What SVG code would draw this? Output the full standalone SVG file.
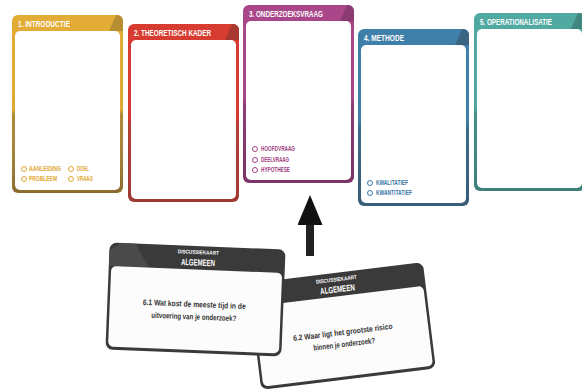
<svg xmlns="http://www.w3.org/2000/svg" width="582" height="392" viewBox="0 0 582 392">
<style>
  .ttl { font-family: "Liberation Sans", Arial, sans-serif; font-weight: bold; font-size: 9.5px; fill: #ffffff; }
  .chk { font-family: "Liberation Sans", Arial, sans-serif; font-weight: bold; font-size: 6.6px; }
  .inner { fill: #ffffff; }
  .dk-outer { fill: #3a3a3a; }
  .dk-inner { fill: #fcfcfc; }
  .dk-small { font-family: "Liberation Sans", Arial, sans-serif; font-weight: bold; font-size: 5.6px; fill: #ffffff; }
  .dk-big { font-family: "Liberation Sans", Arial, sans-serif; font-weight: bold; font-size: 9px; fill: #ffffff; }
  .dk-body { font-family: "Liberation Sans", Arial, sans-serif; font-weight: bold; font-size: 8px; fill: #333333; }
</style>
<defs>
  <linearGradient id="gY" x1="0" y1="0" x2="0" y2="1">
    <stop offset="0" stop-color="#E3AC36"/><stop offset="0.53" stop-color="#E0A935"/>
    <stop offset="0.56" stop-color="#B08A3C"/><stop offset="0.8" stop-color="#A6823A"/>
    <stop offset="1" stop-color="#8C6C2D"/>
  </linearGradient>
  <linearGradient id="gR" x1="0" y1="0" x2="0" y2="1">
    <stop offset="0" stop-color="#D83C30"/><stop offset="0.53" stop-color="#D53B30"/>
    <stop offset="0.56" stop-color="#B33E34"/><stop offset="1" stop-color="#A03A33"/>
  </linearGradient>
  <linearGradient id="gP" x1="0" y1="0" x2="0" y2="1">
    <stop offset="0" stop-color="#A9478A"/><stop offset="0.53" stop-color="#A54588"/>
    <stop offset="0.56" stop-color="#8C3E74"/><stop offset="1" stop-color="#7A3566"/>
  </linearGradient>
  <linearGradient id="gB" x1="0" y1="0" x2="0" y2="1">
    <stop offset="0" stop-color="#3F80AA"/><stop offset="0.53" stop-color="#3E7EA8"/>
    <stop offset="0.56" stop-color="#3C6A8A"/><stop offset="1" stop-color="#3A5C77"/>
  </linearGradient>
  <linearGradient id="gT" x1="0" y1="0" x2="0" y2="1">
    <stop offset="0" stop-color="#50AAA2"/><stop offset="0.53" stop-color="#4EA69F"/>
    <stop offset="0.56" stop-color="#459088"/><stop offset="1" stop-color="#3E7F79"/>
  </linearGradient>
  <clipPath id="cardClip"><rect x="0" y="0" width="111" height="178" rx="6"/></clipPath>
  <clipPath id="dkClip"><rect x="-88" y="-53.5" width="176" height="107" rx="7"/></clipPath>
  <marker id="arrowHead" viewBox="0 0 30 25" refX="0" refY="12.5" markerWidth="30" markerHeight="25" markerUnits="userSpaceOnUse" orient="auto">
    <path d="M0,0 L30,12.5 L0,25 Z" fill="#111111"/>
  </marker>
</defs>

<!-- Card 1 -->
<g id="card-introductie" transform="translate(12,15)">
  <rect x="0" y="0" width="111" height="178" rx="6" fill="url(#gY)"/>
  <polygon points="97,16 104,0 112,0 112,16" fill="#B88E33" clip-path="url(#cardClip)"/>
  <rect class="inner" x="3" y="16" width="105" height="159" rx="5"/>
  <text class="ttl" x="6" y="11.5" textLength="52" lengthAdjust="spacingAndGlyphs">1. INTRODUCTIE</text>
  <g fill="#ffffff" stroke="#E0A733" stroke-width="1">
    <circle cx="12" cy="154" r="2.5"/><circle cx="12" cy="164" r="2.5"/>
    <circle cx="59" cy="154" r="2.5"/><circle cx="59" cy="164" r="2.5"/>
  </g>
  <g class="chk" fill="#E0A733">
    <text x="17" y="156.3" textLength="32" lengthAdjust="spacingAndGlyphs">AANLEIDING</text>
    <text x="17" y="166.3" textLength="28" lengthAdjust="spacingAndGlyphs">PROBLEEM</text>
    <text x="65" y="156.3" textLength="12" lengthAdjust="spacingAndGlyphs">DOEL</text>
    <text x="65" y="166.3" textLength="16" lengthAdjust="spacingAndGlyphs">VRAAG</text>
  </g>
</g>

<!-- Card 2 -->
<g id="card-theoretisch-kader" transform="translate(128,24)">
  <rect x="0" y="0" width="111" height="178" rx="6" fill="url(#gR)"/>
  <polygon points="97,16 104,0 112,0 112,16" fill="#A8372F" clip-path="url(#cardClip)"/>
  <rect class="inner" x="3" y="16" width="105" height="159" rx="5"/>
  <text class="ttl" x="6" y="11.5" textLength="77" lengthAdjust="spacingAndGlyphs">2. THEORETISCH KADER</text>
</g>

<!-- Card 3 -->
<g id="card-onderzoeksvraag" transform="translate(243,5)">
  <rect x="0" y="0" width="111" height="178" rx="6" fill="url(#gP)"/>
  <polygon points="97,16 104,0 112,0 112,16" fill="#8A3C71" clip-path="url(#cardClip)"/>
  <rect class="inner" x="3" y="16" width="105" height="159" rx="5"/>
  <text class="ttl" x="6" y="11.5" textLength="74" lengthAdjust="spacingAndGlyphs">3. ONDERZOEKSVRAAG</text>
  <g fill="#ffffff" stroke="#A0407F" stroke-width="1">
    <circle cx="12" cy="144" r="2.5"/><circle cx="12" cy="155" r="2.5"/><circle cx="12" cy="165" r="2.5"/>
  </g>
  <g class="chk" fill="#A0407F">
    <text x="18" y="146.3" textLength="34" lengthAdjust="spacingAndGlyphs">HOOFDVRAAG</text>
    <text x="18" y="157.3" textLength="28" lengthAdjust="spacingAndGlyphs">DEELVRAAG</text>
    <text x="18" y="167.3" textLength="29" lengthAdjust="spacingAndGlyphs">HYPOTHESE</text>
  </g>
</g>

<!-- Card 4 -->
<g id="card-methode" transform="translate(358,29)">
  <rect x="0" y="0" width="111" height="177" rx="6" fill="url(#gB)"/>
  <polygon points="97,16 104,0 112,0 112,16" fill="#3B6482" clip-path="url(#cardClip)"/>
  <rect class="inner" x="3" y="16" width="105" height="158" rx="5"/>
  <text class="ttl" x="6" y="11.5" textLength="40" lengthAdjust="spacingAndGlyphs">4. METHODE</text>
  <g fill="#ffffff" stroke="#3A78A8" stroke-width="1">
    <circle cx="12" cy="154" r="2.5"/><circle cx="12" cy="164" r="2.5"/>
  </g>
  <g class="chk" fill="#3A78A8">
    <text x="18" y="156.3" textLength="32" lengthAdjust="spacingAndGlyphs">KWALITATIEF</text>
    <text x="18" y="166.3" textLength="36" lengthAdjust="spacingAndGlyphs">KWANTITATIEF</text>
  </g>
</g>

<!-- Card 5 -->
<g id="card-operationalisatie" transform="translate(474,13)">
  <rect x="0" y="0" width="111" height="178" rx="6" fill="url(#gT)"/>
  <polygon points="97,16 104,0 112,0 112,16" fill="#3F867F" clip-path="url(#cardClip)"/>
  <rect class="inner" x="3" y="16" width="105" height="159" rx="5"/>
  <text class="ttl" transform="translate(6,11.5) scale(0.662,1)" x="0" y="0">5. OPERATIONALISATIE</text>
</g>

<!-- Connectors -->
<g id="connectors">
  <line x1="310" y1="256" x2="310" y2="225" stroke="#222222" stroke-width="8" marker-end="url(#arrowHead)"/>
</g>

<!-- Discussion card 6.2 (behind) -->
<g id="card-discussie-6-2" transform="translate(342,326) rotate(-7)">
  <rect class="dk-outer" x="-88" y="-53.5" width="176" height="107" rx="7"/>
  <rect class="dk-inner" x="-85.5" y="-30" width="171" height="80.5" rx="5"/>
  <text class="dk-small" x="0" y="-45" text-anchor="middle" textLength="41" lengthAdjust="spacingAndGlyphs">DISCUSSIEKAART</text>
  <text class="dk-big" x="0" y="-34" text-anchor="middle" textLength="35" lengthAdjust="spacingAndGlyphs">ALGEMEEN</text>
  <text class="dk-body" x="0" y="9" text-anchor="middle" textLength="100" lengthAdjust="spacingAndGlyphs">6.2 Waar ligt het grootste risico</text>
  <text class="dk-body" x="0" y="21" text-anchor="middle" textLength="62" lengthAdjust="spacingAndGlyphs">binnen je onderzoek?</text>
</g>

<!-- Discussion card 6.1 (front) -->
<g id="card-discussie-6-1" transform="translate(195.5,299.5) rotate(2.3)">
  <rect class="dk-outer" x="-88" y="-53.5" width="176" height="107" rx="7"/>
  <polygon points="-88,-46 -76,-53.5 -62,-53.5 -48,-30 -88,-30" fill="#4a4a4a" clip-path="url(#dkClip)"/>
  <rect class="dk-inner" x="-85.5" y="-30" width="171" height="80.5" rx="5"/>
  <text class="dk-small" x="1" y="-45.5" text-anchor="middle" textLength="41" lengthAdjust="spacingAndGlyphs">DISCUSSIEKAART</text>
  <text class="dk-big" x="1" y="-34" text-anchor="middle" textLength="34" lengthAdjust="spacingAndGlyphs">ALGEMEEN</text>
  <text class="dk-body" x="-1" y="7.5" text-anchor="middle" textLength="103" lengthAdjust="spacingAndGlyphs">6.1 Wat kost de meeste tijd in de</text>
  <text class="dk-body" x="-1" y="20" text-anchor="middle" textLength="85" lengthAdjust="spacingAndGlyphs">uitvoering van je onderzoek?</text>
</g>
</svg>
